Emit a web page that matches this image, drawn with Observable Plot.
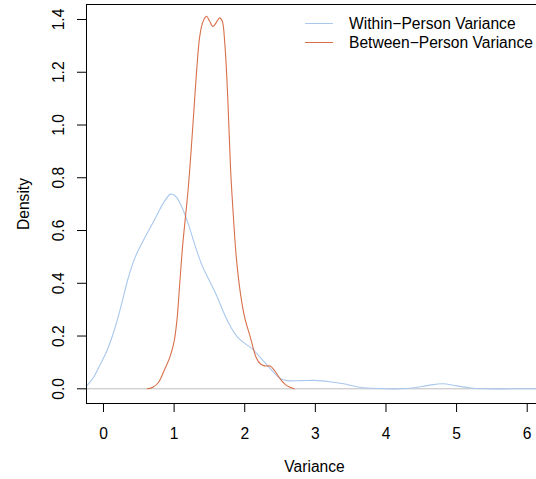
<!DOCTYPE html>
<html>
<head>
<meta charset="utf-8">
<script src="https://cdn.jsdelivr.net/npm/d3@7"></script>
<script src="https://cdn.jsdelivr.net/npm/@observablehq/plot@0.6"></script>
<style>
  html, body { margin: 0; padding: 0; background: #fff; overflow: hidden; width: 536px; height: 479px; }
  #wrap { position: relative; width: 536px; height: 479px; overflow: hidden; font-family: "Liberation Sans", Arial, Helvetica, sans-serif; }
  #wrap svg { overflow: hidden; }
  #legend { position: absolute; left: 305px; top: 14px; font-size: 15.6px; line-height: 19px; color: #000; }
  #legend .item { display: flex; align-items: center; white-space: nowrap; }
  #legend .sw { display: inline-block; width: 28px; height: 0; border-top: 1px solid; margin-right: 16px; }
</style>
</head>
<body>
<div id="wrap"><div id="legend"></div></div>
<script>
// Within-Person Variance density curve (x = variance, y = density)
const withinX = [-0.24,-0.15,-0.05,0.05,0.15,0.25,0.35,0.45,0.55,0.65,0.75,0.85,0.95,1.02,1.1,1.2,1.3,1.4,1.5,1.6,1.7,1.8,1.9,2.0,2.1,2.2,2.3,2.4,2.5,2.6,2.8,3.0,3.2,3.4,3.6,3.8,4.0,4.2,4.4,4.6,4.8,5.0,5.2,5.4,5.8,6.22];
const withinY = [0.010,0.040,0.090,0.145,0.220,0.315,0.420,0.500,0.555,0.605,0.655,0.705,0.738,0.730,0.695,0.625,0.540,0.465,0.410,0.355,0.290,0.235,0.195,0.172,0.153,0.125,0.095,0.065,0.040,0.031,0.031,0.032,0.027,0.019,0.007,0.002,0.000,0.000,0.004,0.013,0.019,0.011,0.003,0.000,0.000,0.000];
// Between-Person Variance density curve
const betweenX = [0.62,0.70,0.78,0.86,0.94,1.00,1.04,1.08,1.12,1.16,1.20,1.24,1.28,1.32,1.36,1.40,1.44,1.46,1.50,1.55,1.60,1.645,1.68,1.72,1.76,1.80,1.84,1.88,1.94,2.00,2.08,2.16,2.22,2.28,2.36,2.42,2.50,2.58,2.70];
const betweenY = [0.000,0.006,0.025,0.070,0.120,0.180,0.260,0.400,0.540,0.650,0.760,0.900,1.055,1.210,1.330,1.385,1.408,1.412,1.395,1.373,1.390,1.406,1.395,1.300,1.100,0.830,0.650,0.500,0.360,0.270,0.195,0.120,0.095,0.087,0.086,0.070,0.038,0.015,0.000];

const seriesNames = ["Within\u2212Person Variance", "Between\u2212Person Variance"];
const seriesColors = ["#a9c8ee", "#d8704c"];
const xTicks = [0, 1, 2, 3, 4, 5, 6];
const yTicks = [0.0, 0.2, 0.4, 0.6, 0.8, 1.0, 1.2, 1.4];
const xTitle = "Variance";
const yTitle = "Density";

// visible part of the plot region (the right edge of the box falls just outside the window)
const xDomain = [-0.2407, 6.1316];
const yDomain = [-0.0557, 1.4568];

const within = withinX.map((x, i) => ({x, y: withinY[i]}));
const between = betweenX.map((x, i) => ({x, y: betweenY[i]}));
const fmt = d3.format(".1f");

const chart = Plot.plot({
  width: 536,
  height: 479,
  marginLeft: 86,
  marginRight: 0,
  marginTop: 4,
  marginBottom: 76,
  style: {fontFamily: '"Liberation Sans", Arial, Helvetica, sans-serif', fontSize: "15.6px", color: "#000", background: "#fff", overflow: "hidden"},
  x: {domain: xDomain, label: null},
  y: {domain: yDomain, label: null},
  marks: [
    Plot.ruleY([0], {stroke: "#bebebe", strokeWidth: 1}),
    Plot.line(within, {x: "x", y: "y", stroke: seriesColors[0], strokeWidth: 1.1, curve: "catmull-rom", clip: true}),
    Plot.line(between, {x: "x", y: "y", stroke: seriesColors[1], strokeWidth: 1.1, curve: "catmull-rom", clip: true}),
    // plot box: top, bottom and left sides
    Plot.ruleY(yDomain, {stroke: "#000", strokeWidth: 1}),
    Plot.ruleX([xDomain[0]], {stroke: "#000", strokeWidth: 1}),
    Plot.axisX({ticks: xTicks, tickSize: 9, tickPadding: 15, tickFormat: d3.format("d"), fontSize: 15.6, label: null}),
    Plot.axisY({ticks: yTicks, tickSize: 9, tickFormat: () => "", label: null}),
    Plot.text(yTicks, {y: d => d, text: d => fmt(d), frameAnchor: "left", dx: -28, rotate: -90, textAnchor: "middle", fontSize: 15.6}),
    Plot.text([xTitle], {frameAnchor: "bottom", dx: 3, dy: 68, textAnchor: "middle", fontSize: 15.6}),
    Plot.text([yTitle], {frameAnchor: "left", dx: -63, rotate: -90, textAnchor: "middle", fontSize: 15.6})
  ]
});

const wrap = document.getElementById("wrap");
wrap.insertBefore(chart, wrap.firstChild);

const legend = document.getElementById("legend");
seriesNames.forEach((name, i) => {
  const item = document.createElement("div");
  item.className = "item";
  const sw = document.createElement("span");
  sw.className = "sw";
  sw.style.borderColor = seriesColors[i];
  const t = document.createElement("span");
  t.textContent = name;
  item.appendChild(sw);
  item.appendChild(t);
  legend.appendChild(item);
});
</script>
</body>
</html>
